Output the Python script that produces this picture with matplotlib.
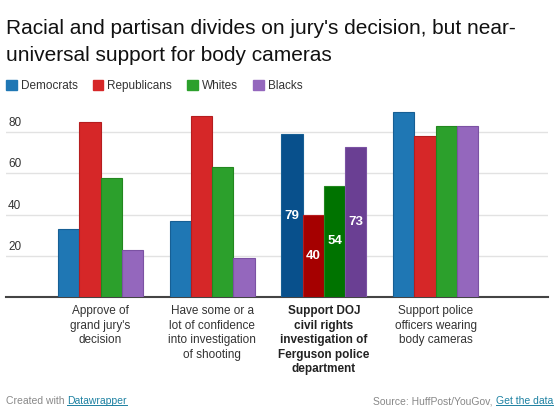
import matplotlib
matplotlib.use('Agg')
import matplotlib.pyplot as plt
import matplotlib.transforms as mtransforms
from matplotlib.patches import Patch
import numpy as np

plt.rcParams['font.family'] = ['Liberation Sans', 'DejaVu Sans']

title_lines = ["Racial and partisan divides on jury's decision, but near-",
               "universal support for body cameras"]
questions = [
    "Approve of\ngrand jury's\ndecision",
    "Have some or a\nlot of confidence\ninto investigation\nof shooting",
    "Support DOJ\ncivil rights\ninvestigation of\nFerguson police\ndepartment",
    "Support police\nofficers wearing\nbody cameras",
]
groups = ['Democrats', 'Republicans', 'Whites', 'Blacks']
democrats = [33, 37, 79, 90]
republicans = [85, 88, 40, 78]
whites = [58, 63, 54, 83]
blacks = [23, 19, 73, 83]
highlight = 2
yticks = [20, 40, 60, 80]

series = [democrats, republicans, whites, blacks]
colors = ['#1f77b4', '#d62728', '#2ca02c', '#9467bd']
dark_colors = ['#08508c', '#a50000', '#007300', '#6a3f93']
edge_colors = ['#175f94', '#b51d1f', '#23871f', '#7b52a3']

W, H = 560, 411
fig = plt.figure(figsize=(W / 100, H / 100), dpi=100)
ax = fig.add_axes([6 / W, 1 - 297 / H, 542 / W, (297 - 101.4) / H])

x = np.arange(len(questions))
bw = 0.19
for i, vals in enumerate(series):
    cols = [dark_colors[i] if j == highlight else colors[i] for j in range(len(vals))]
    ax.bar(x + (i - 1.5) * bw, vals, bw, color=cols, edgecolor=edge_colors[i],
           linewidth=0.8, zorder=3)
    v = vals[highlight]
    ax.text(x[highlight] + (i - 1.5) * bw, v / 2, str(v), color='white',
            fontsize=9.5, fontweight='bold', ha='center', va='center', zorder=4)

ax.set_xlim(-0.846, 4.006)
ax.set_ylim(0, 95)
ax.set_yticks(yticks)
ax.yaxis.grid(True, color='#e2e2e2', linewidth=1)
ax.set_axisbelow(True)
ax.tick_params(axis='y', length=0, labelleft=False)
for s in ['top', 'right', 'left']:
    ax.spines[s].set_visible(False)
ax.spines['bottom'].set_color('#444444')
ax.spines['bottom'].set_linewidth(1.5)

trans = mtransforms.blended_transform_factory(ax.transAxes, ax.transData)
for t in yticks:
    ax.text(0.004, t + 1.5, str(t), transform=trans, fontsize=8.5, color='#333333',
            ha='left', va='bottom')

ax.set_xticks(x)
ax.set_xticklabels(questions, fontsize=8.5, color='#333333', linespacing=1.28)
ax.tick_params(axis='x', length=0, pad=6)
for j, lab in enumerate(ax.get_xticklabels()):
    if j == highlight:
        lab.set_fontweight('bold')
        lab.set_color('#222222')

for k, line in enumerate(title_lines):
    fig.text(6 / W, 1 - (34 + 27 * k) / H, line, fontsize=15, color='#111111',
             va='baseline', ha='left')

handles = [Patch(facecolor=c, edgecolor=c) for c in colors]
fig.legend(handles, groups, loc='center left', bbox_to_anchor=(6 / W, 1 - 86 / H),
           ncol=4, frameon=False, fontsize=8.5, handlelength=0.9, handleheight=0.9,
           handletextpad=0.35, columnspacing=1.28, borderpad=0.0, borderaxespad=0.0,
           labelcolor='#333333')

# footer
fig.canvas.draw()
r = fig.canvas.get_renderer()
fy = 1 - 401 / H
t1 = fig.text(6 / W, fy, 'Created with ', fontsize=7.5, color='#888888', va='center')
bb = t1.get_window_extent(r)
t2 = fig.text(bb.x1 / W, fy, 'Datawrapper', fontsize=7.5, color='#1d81a2', va='center')
t3 = fig.text(553 / W, fy, 'Get the data', fontsize=7.5, color='#1d81a2', va='center', ha='right')
bb3 = t3.get_window_extent(r)
fig.text(bb3.x0 / W, fy, 'Source: HuffPost/YouGov, ', fontsize=7.5, color='#888888',
         va='center', ha='right')
for t in (t2, t3):
    b = t.get_window_extent(r)
    uy = (b.y0 + 1) / H
    fig.add_artist(plt.Line2D([b.x0 / W, b.x1 / W], [uy, uy], color='#1d81a2', lw=0.7))

fig.savefig('out.png', dpi=100)
